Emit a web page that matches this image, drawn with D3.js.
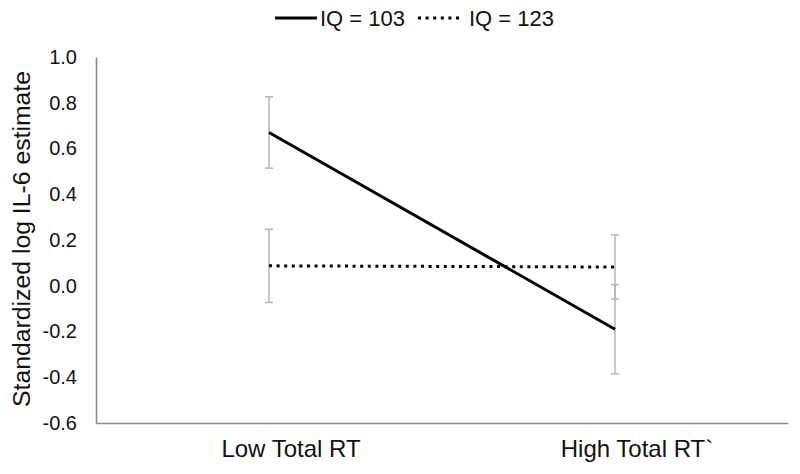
<!DOCTYPE html>
<html><head><meta charset="utf-8">
<script src="https://cdn.jsdelivr.net/npm/d3@7"></script>
<style>body{margin:0;background:#fff}text{font-family:"Liberation Sans",Arial,sans-serif;fill:#111}</style>
</head><body><svg id="c" width="800" height="474"></svg>
<script>
const categories = ["Low Total RT", "High Total RT`"];
const seriesNames = ["IQ = 103", "IQ = 123"];
const iq103 = [0.670, -0.190];
const iq103Err = [0.156, 0.195];
const iq123 = [0.087, 0.082];
const iq123Err = [0.160, 0.140];
const yTicks = [-0.6, -0.4, -0.2, 0.0, 0.2, 0.4, 0.6, 0.8, 1.0];

const svg = d3.select("#c");
const m = {l: 96, r: 12, t: 57, b: 51};
const W = 800, H = 474;
const x = d3.scaleBand().domain(categories).range([m.l, W - m.r]);
const y = d3.scaleLinear().domain([-0.6, 1.0]).range([H - m.b, m.t]);

// axes
const ya = svg.append("g").attr("transform", `translate(${m.l},0)`)
  .call(d3.axisLeft(y).tickValues(yTicks).tickSize(0).tickPadding(19).tickFormat(d => d.toFixed(1)));
ya.select(".domain").attr("stroke", "#8a8a8a").attr("stroke-width", 1.6);
ya.selectAll("text").attr("font-size", 20).attr("fill", "#111");

const xa = svg.append("g").attr("transform", `translate(0,${H - m.b})`)
  .call(d3.axisBottom(x).tickSize(0).tickPadding(17));
xa.select(".domain").attr("stroke", "#8a8a8a").attr("stroke-width", 1.6);
xa.selectAll("text").attr("font-size", 24).attr("fill", "#111").attr("dx", 22);

svg.append("text").attr("transform", `translate(30,${(m.t + H - m.b)/2 - 1}) rotate(-90)`)
  .attr("text-anchor", "middle").attr("font-size", 23).attr("textLength", 336).attr("lengthAdjust", "spacingAndGlyphs")
  .text("Standardized log IL-6 estimate");

const cx = d => x(d) + x.bandwidth()/2;
const series = [
  {name: seriesNames[0], vals: iq103, err: iq103Err, dash: null, w: 3},
  {name: seriesNames[1], vals: iq123, err: iq123Err, dash: "3,4.6", w: 3}
];

// error bars
series.forEach(s => {
  const g = svg.append("g");
  categories.forEach((c, i) => {
    const xc = cx(c), hi = y(s.vals[i] + s.err[i]), lo = y(s.vals[i] - s.err[i]);
    g.append("line").attr("x1", xc).attr("x2", xc).attr("y1", hi).attr("y2", lo).attr("stroke", "#b5b5b5").attr("stroke-width", 1.5);
    [hi, lo].forEach(yy => g.append("line").attr("x1", xc - 4).attr("x2", xc + 4).attr("y1", yy).attr("y2", yy).attr("stroke", "#b5b5b5").attr("stroke-width", 1.5));
  });
});

// lines
const line = d3.line().x((d, i) => cx(categories[i])).y(d => y(d));
series.forEach(s => {
  svg.append("path").datum(s.vals).attr("d", line).attr("fill", "none").attr("stroke", "#000")
    .attr("stroke-width", s.w).attr("stroke-dasharray", s.dash);
});

// legend
const lg = svg.append("g");
const items = [{x1: 275, x2: 317, tx: 320}, {x1: 418, x2: 462, tx: 469}];
series.forEach((s, i) => {
  const it = items[i];
  lg.append("line").attr("x1", it.x1).attr("x2", it.x2).attr("y1", 18).attr("y2", 18).attr("stroke", "#000")
    .attr("stroke-width", 3).attr("stroke-dasharray", s.dash);
  lg.append("text").attr("x", it.tx).attr("y", 25.5).attr("font-size", 22).text(s.name);
});
</script></body></html>
